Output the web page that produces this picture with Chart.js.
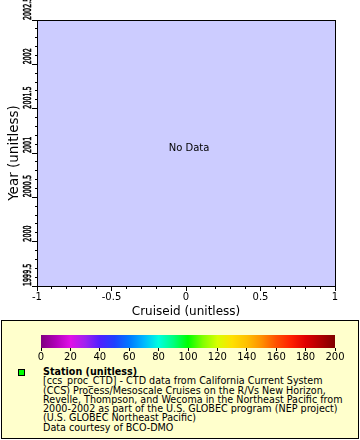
<!DOCTYPE html>
<html><head><meta charset="utf-8">
<script src="https://cdn.jsdelivr.net/npm/chart.js@4"></script>
<style>
html,body{margin:0;padding:0;background:#fff;}
#wrap{position:relative;width:360px;height:440px;overflow:hidden;font-family:"DejaVu Sans";}
#main{position:absolute;left:0;top:0;}
#legend{position:absolute;left:1px;top:320px;width:358px;height:119px;box-sizing:border-box;border:1px solid #000;background:#ffffcc;}
#cbar{position:absolute;left:0;top:330px;}
#swatch{position:absolute;left:18px;top:369px;width:7px;height:7px;box-sizing:border-box;border:1px solid #000;background:#00ff00;}
#ltext{position:absolute;left:43px;top:367px;font-size:9.6px;line-height:9.3px;white-space:pre;color:#000;}
#ltext b{font-weight:bold;}
</style></head>
<body><div id="wrap">
<canvas id="main" width="360" height="320"></canvas>
<div id="legend"></div>
<canvas id="cbar" width="360" height="36"></canvas>
<div id="swatch"></div>
<div id="ltext"></div>
</div>
<script>
// ---- data ----
const cruiseid = [];            // no data points in this chart
const year = [];
const station = [];
const xRange = [-1, 1];
const yRange = [1999.5, 2002.5];
const minorStep = 0.1;
const majorStep = 0.5;
const xTitle = 'Cruiseid (unitless)';
const yTitle = 'Year (unitless)';
const noDataText = 'No Data';
const cbarRange = [0, 200];
const cbarStep = 20;
const cbarStops = [0, 10, 20, 30, 40, 50, 60, 70, 80, 90, 100, 110, 120, 130, 140, 150, 160, 170, 180, 190, 200];
const cbarColors = ['#800080', '#b000b8', '#e010e8', '#a020f0', '#5020ff', '#2040ff', '#0078ff', '#00b8ff', '#00ffe0', '#00ff80', '#00ff00', '#80ff00', '#d8ff00', '#ffe000', '#ffc000', '#ff9000', '#ff5000', '#ff2000', '#e00000', '#b00000', '#800000'];
const legendTitle = 'Station (unitless)';
const legendLines = [
  '[ccs_proc_CTD] - CTD data from California Current System',
  '(CCS) Process/Mesoscale Cruises on the R/Vs New Horizon,',
  'Revelle, Thompson, and Wecoma in the Northeast Pacific from',
  '2000-2002 as part of the U.S. GLOBEC program (NEP project)',
  '(U.S. GLOBEC Northeast Pacific)',
  'Data courtesy of BCO-DMO'
];

// ---- legend text ----
const lt = document.getElementById('ltext');
const bEl = document.createElement('b'); bEl.textContent = legendTitle; lt.appendChild(bEl);
lt.appendChild(document.createTextNode('\n' + legendLines.join('\n')));

const FONT = 'DejaVu Sans';
function isMajor(v){ return Math.abs(v / majorStep - Math.round(v / majorStep)) < 1e-6; }
function fmt(v){ return isMajor(v) ? String(Math.round(v * 10) / 10) : ''; }
function minorDash(ctx, outerFirst){
  if (!ctx.tick) return [];
  if (isMajor(ctx.tick.value)) return [];
  return outerFirst ? [0, 3, 2, 10] : [2, 10];
}

const framePlugin = {
  id: 'frame',
  beforeDraw(chart){
    const a = chart.chartArea, c = chart.ctx;
    c.save(); c.fillStyle = '#ccccff'; c.fillRect(a.left, a.top, a.right - a.left, a.bottom - a.top); c.restore();
  },
  afterDraw(chart){
    const a = chart.chartArea, c = chart.ctx;
    c.save();
    c.strokeStyle = '#000'; c.lineWidth = 1;
    c.strokeRect(a.left + 0.5, a.top + 0.5, a.right - a.left, a.bottom - a.top);
    if (cruiseid.length === 0) {
      c.fillStyle = '#000'; c.font = '10px "' + FONT + '"';
      c.textAlign = 'center'; c.textBaseline = 'middle';
      c.fillText(noDataText, (a.left + a.right) / 2 + 3, (a.top + a.bottom) / 2 - 5);
    }
    // rotated, condensed y tick labels taken from the y scale
    const ys = chart.scales.y;
    c.font = '11px "' + FONT + '"'; c.fillStyle = '#000'; c.strokeStyle = '#000'; c.lineWidth = 0.6;
    ys.ticks.forEach(t => {
      if (!isMajor(t.value)) return;
      const py = ys.getPixelForValue(t.value);
      c.save(); c.translate(33.5, py); c.rotate(-Math.PI / 2); c.scale(0.58, 1);
      c.textAlign = 'left'; c.textBaseline = 'bottom';
      c.fillText(fmt(t.value), 0, 0);
      c.strokeText(fmt(t.value), 0, 0);
      c.restore();
    });
    c.restore();
  }
};

new Chart(document.getElementById('main'), {
  type: 'scatter',
  data: { datasets: [{ label: legendTitle, data: cruiseid.map((x, i) => ({ x: x, y: year[i] })),
    pointStyle: 'rect', backgroundColor: '#00ff00', borderColor: '#000', pointRadius: 3 }] },
  options: {
    responsive: false, animation: false, events: [],
    layout: { padding: { left: 0, top: 20, right: 25, bottom: 0 } },
    plugins: { legend: { display: false }, tooltip: { enabled: false }, title: { display: false } },
    scales: {
      x: {
        type: 'linear', position: 'bottom', min: xRange[0], max: xRange[1],
        ticks: { stepSize: minorStep, autoSkip: false, maxRotation: 0, minRotation: 0, padding: 0,
          color: '#000', font: { family: FONT, size: 10 }, callback: v => fmt(v) },
        grid: { drawOnChartArea: false, drawTicks: true, tickLength: 5, color: '#000', tickColor: '#000',
          tickBorderDash: ctx => minorDash(ctx, false) },
        border: { display: true, color: '#000', width: 1 },
        title: { display: true, text: xTitle, color: '#000', font: { family: FONT, size: 12 }, padding: { top: 0, bottom: 1 } },
        afterFit: s => { s.height = 34; }
      },
      y: {
        type: 'linear', position: 'left', min: yRange[0], max: yRange[1],
        ticks: { stepSize: minorStep, autoSkip: false, display: false, callback: v => fmt(v) },
        grid: { drawOnChartArea: false, drawTicks: true, tickLength: 5, color: '#000', tickColor: '#000',
          tickBorderDash: ctx => minorDash(ctx, true) },
        border: { display: true, color: '#000', width: 1 },
        title: { display: true, text: yTitle, color: '#000', font: { family: FONT, size: 13.5 }, padding: { top: 6, bottom: 0 } },
        afterFit: s => { s.width = 37; }
      }
    }
  },
  plugins: [framePlugin]
});

const gradPlugin = {
  id: 'grad',
  beforeDraw(chart){
    const a = chart.chartArea, c = chart.ctx, xs = chart.scales.x;
    const g = c.createLinearGradient(a.left, 0, a.right, 0);
    cbarStops.forEach((s, i) => {
      const p = (xs.getPixelForValue(s) - a.left) / (a.right - a.left);
      g.addColorStop(Math.min(1, Math.max(0, p)), cbarColors[i]);
    });
    c.save(); c.fillStyle = g; c.fillRect(a.left, a.top, a.right - a.left, a.bottom - a.top); c.restore();
  }
};

new Chart(document.getElementById('cbar'), {
  type: 'scatter',
  data: { datasets: [] },
  options: {
    responsive: false, animation: false, events: [],
    layout: { padding: { left: 41, right: 25, top: 5, bottom: 0 } },
    plugins: { legend: { display: false }, tooltip: { enabled: false } },
    scales: {
      x: { type: 'linear', min: cbarRange[0], max: cbarRange[1],
        ticks: { stepSize: cbarStep, autoSkip: false, maxRotation: 0, padding: 0, color: '#000', font: { family: FONT, size: 10 } },
        grid: { drawOnChartArea: false, drawTicks: true, tickLength: 3, color: '#000' },
        border: { display: false },
        afterFit: s => { s.height = 18; } },
      y: { display: false }
    }
  },
  plugins: [gradPlugin]
});
</script>
</body></html>
